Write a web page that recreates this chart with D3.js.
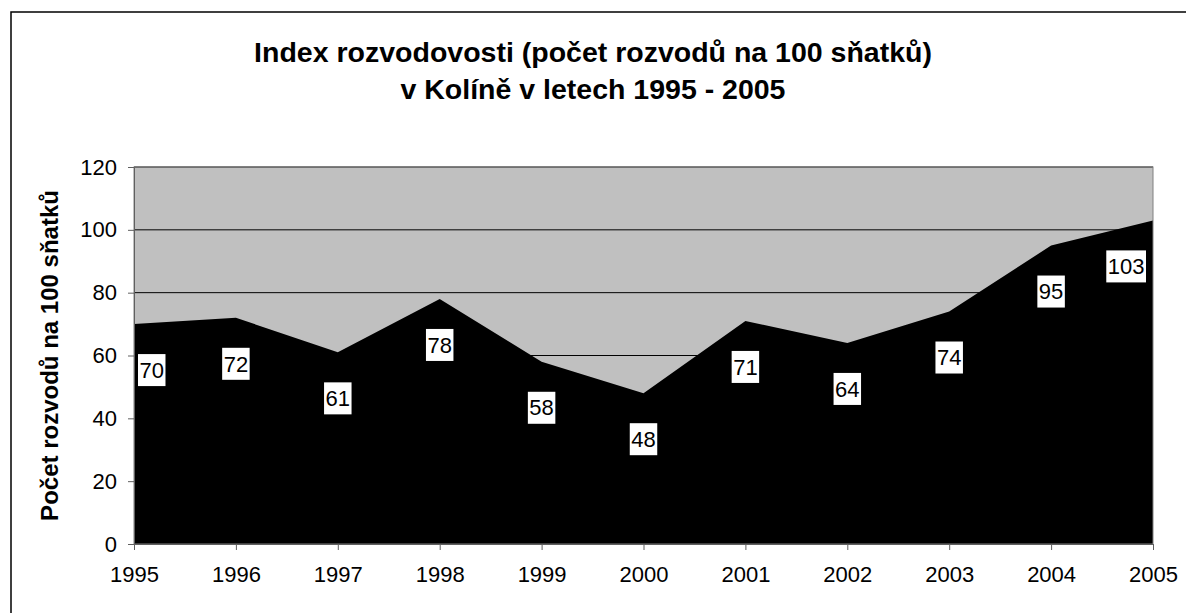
<!DOCTYPE html>
<html>
<head>
<meta charset="utf-8">
<script src="https://cdn.jsdelivr.net/npm/d3@7"></script>
<style>
  body { margin: 0; background: #fff; }
  svg { display: block; font-family: Arial, "Liberation Sans", sans-serif; }
</style>
</head>
<body>
<svg width="1186" height="613"></svg>
<script>
const years = ['1995', '1996', '1997', '1998', '1999', '2000', '2001', '2002', '2003', '2004', '2005'];
const values = [70, 72, 61, 78, 58, 48, 71, 64, 74, 95, 103];
const yTicks = [0, 20, 40, 60, 80, 100, 120];
const titleLines = ['Index rozvodovosti (počet rozvodů na 100 sňatků)', 'v Kolíně v letech 1995 - 2005'];
const yTitle = 'Počet rozvodů na 100 sňatků';

const W = 1186;
const H = 613;
const margin = {top: 167, right: 33, bottom: 69, left: 134};
const plotW = W - margin.left - margin.right;
const plotH = H - margin.top - margin.bottom;

const svg = d3.select('svg');

// outer chart border (only left and top fall inside the window)
svg.append('rect')
  .attr('x', 11).attr('y', 12)
  .attr('width', W + 20).attr('height', H + 20)
  .attr('fill', 'none')
  .attr('stroke', '#000')
  .attr('stroke-width', 1.5);

// title
svg.append('g').selectAll('text')
  .data(titleLines)
  .join('text')
    .attr('x', W / 2)
    .attr('y', (d, i) => 62 + i * 37)
    .attr('text-anchor', 'middle')
    .attr('font-size', 28.5)
    .attr('font-weight', 'bold')
    .text(d => d);

const g = svg.append('g').attr('transform', `translate(${margin.left},${margin.top})`);

const x = d3.scalePoint().domain(years).range([0, plotW]);
const y = d3.scaleLinear().domain([0, 120]).range([plotH, 0]);

g.append('rect')
  .attr('width', plotW).attr('height', plotH)
  .attr('fill', '#c0c0c0');

g.append('g').selectAll('line')
  .data(yTicks.filter(t => t > 0))
  .join('line')
    .attr('x1', 0).attr('x2', plotW)
    .attr('y1', d => y(d)).attr('y2', d => y(d))
    .attr('stroke', '#000')
    .attr('stroke-width', 1);

const area = d3.area()
  .x((d, i) => x(years[i]))
  .y0(plotH)
  .y1(d => y(d));

g.append('path')
  .datum(values)
  .attr('d', area)
  .attr('fill', '#000');

g.append('rect')
  .attr('width', plotW).attr('height', plotH)
  .attr('fill', 'none')
  .attr('stroke', '#808080')
  .attr('stroke-width', 1);

// axes
const yAxis = g.append('g')
  .call(d3.axisLeft(y).tickValues(yTicks).tickSize(6).tickPadding(11));
const xAxis = g.append('g')
  .attr('transform', `translate(0,${plotH})`)
  .call(d3.axisBottom(x).tickSize(6).tickPadding(16));
[yAxis, xAxis].forEach(a => {
  a.select('.domain').attr('stroke', '#606060');
  a.selectAll('.tick line').attr('stroke', '#606060');
  a.selectAll('.tick text')
    .attr('font-size', 22)
    .attr('font-family', 'Arial, "Liberation Sans", sans-serif')
    .attr('fill', '#000');
});

// y axis title
svg.append('text')
  .attr('transform', `translate(58,${margin.top + plotH / 2}) rotate(-90)`)
  .attr('text-anchor', 'middle')
  .attr('font-size', 24)
  .attr('font-weight', 'bold')
  .text(yTitle);

// data labels: white boxes under each point, kept inside the plot
const labels = g.append('g').selectAll('g')
  .data(values)
  .join('g');
labels.append('text')
  .attr('text-anchor', 'middle')
  .attr('dy', '0.35em')
  .attr('font-size', 22)
  .text(d => d);
labels.each(function (d, i) {
  const sel = d3.select(this);
  const bb = sel.select('text').node().getBBox();
  const w = bb.width + 3;
  const h = 32;
  let cx = x(years[i]);
  cx = Math.max(4 + w / 2, Math.min(plotW - 7 - w / 2, cx));
  const cy = y(d) + 46;
  sel.attr('transform', `translate(${cx},${cy})`);
  sel.insert('rect', 'text')
    .attr('x', -w / 2).attr('y', -h / 2)
    .attr('width', w).attr('height', h)
    .attr('fill', '#fff');
});
</script>
</body>
</html>
